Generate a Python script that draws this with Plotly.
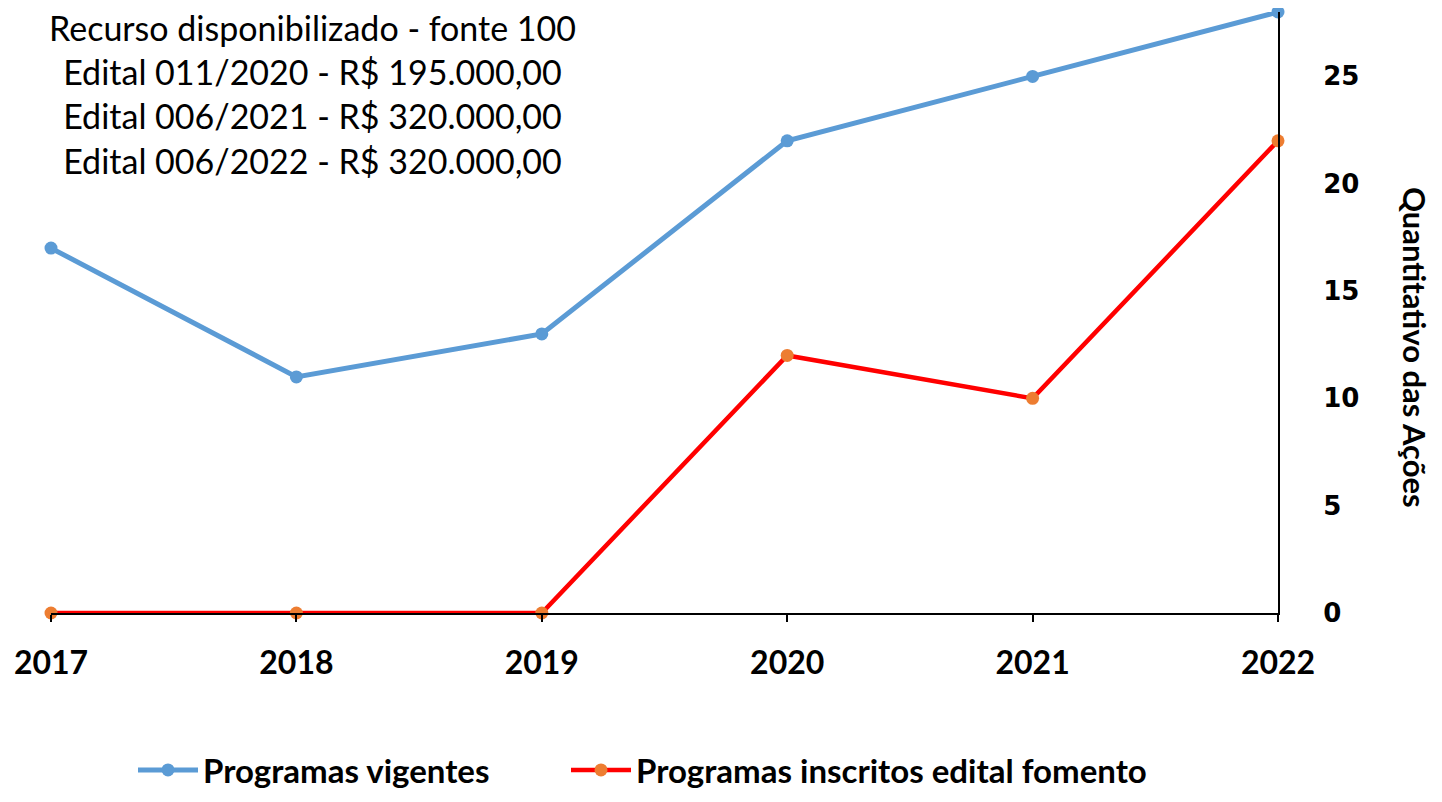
import plotly.graph_objects as go

years = [2017, 2018, 2019, 2020, 2021, 2022]
programas_vigentes = [17, 11, 13, 22, 25, 28]
programas_inscritos = [0, 0, 0, 12, 10, 22]
y_ticks = [0, 5, 10, 15, 20, 25]
note_lines = [
    "Recurso disponibilizado - fonte 100",
    "Edital 011/2020 - R$ 195.000,00",
    "Edital 006/2021 - R$ 320.000,00",
    "Edital 006/2022 - R$ 320.000,00",
]

W, H = 1426, 786
L, R, T, B = 43, 156, 4, 181
PW, PH = W - L - R, H - T - B
legend_font = dict(family="Lato, Open Sans, sans-serif", size=33, color="black", weight="bold")

fig = go.Figure()
fig.add_trace(go.Scatter(
    x=years, y=programas_vigentes, mode="lines+markers",
    name="Programas vigentes",
    line=dict(color="#5B9BD5", width=5),
    marker=dict(color="#5B9BD5", size=13),
    cliponaxis=False, legend="legend",
))
fig.add_trace(go.Scatter(
    x=years, y=programas_inscritos, mode="lines+markers",
    name="Programas inscritos edital fomento",
    line=dict(color="#FF0000", width=4.5),
    marker=dict(color="#ED7D31", size=13),
    cliponaxis=False, legend="legend2",
))

fig.update_layout(
    width=W, height=H,
    margin=dict(l=L, r=R, t=T, b=B),
    paper_bgcolor="white", plot_bgcolor="white",
    showlegend=True,
    legend=dict(
        orientation="h", xref="container", yref="container",
        x=125 / W, xanchor="left", y=1 - 762 / H, yanchor="middle",
        font=legend_font, itemwidth=60, bgcolor="rgba(0,0,0,0)",
    ),
    legend2=dict(
        orientation="h", xref="container", yref="container",
        x=558 / W, xanchor="left", y=1 - 762 / H, yanchor="middle",
        font=legend_font, itemwidth=60, bgcolor="rgba(0,0,0,0)",
    ),
    xaxis=dict(
        range=[2017, 2022], tickmode="array", tickvals=years,
        ticktext=[str(y) for y in years],
        showgrid=False, zeroline=False, automargin=False,
        showline=True, linecolor="black", linewidth=2,
        ticks="outside", ticklen=7, tickwidth=2, tickcolor="black",
        ticklabelstandoff=14,
        tickfont=dict(family="Lato, Open Sans, sans-serif", size=32, color="black", weight="bold"),
    ),
    yaxis=dict(
        range=[0, 28], side="right", tickmode="array", tickvals=y_ticks,
        showgrid=False, zeroline=False, automargin=False,
        showline=True, linecolor="black", linewidth=2,
        ticks="", ticklabelstandoff=38,
        tickfont=dict(family="DejaVu Sans, sans-serif", size=26, color="black", weight="bold"),
    ),
)

fig.add_annotation(
    xref="paper", yref="paper", x=(312 - 51) / PW, y=1 + 7 / PH,
    xanchor="center", yanchor="top", showarrow=False, align="center",
    text="<br>".join(note_lines),
    font=dict(family="Lato, Open Sans, sans-serif", size=34, color="black"),
)
fig.add_annotation(
    xref="paper", yref="paper", x=(1415 - 51) / PW, y=(613 - 347) / PH,
    xanchor="center", yanchor="middle", showarrow=False, textangle=90,
    text="Quantitativo das Ações",
    font=dict(family="Lato, Open Sans, sans-serif", size=31, color="black", weight="bold"),
)

fig.write_html("out.html")
